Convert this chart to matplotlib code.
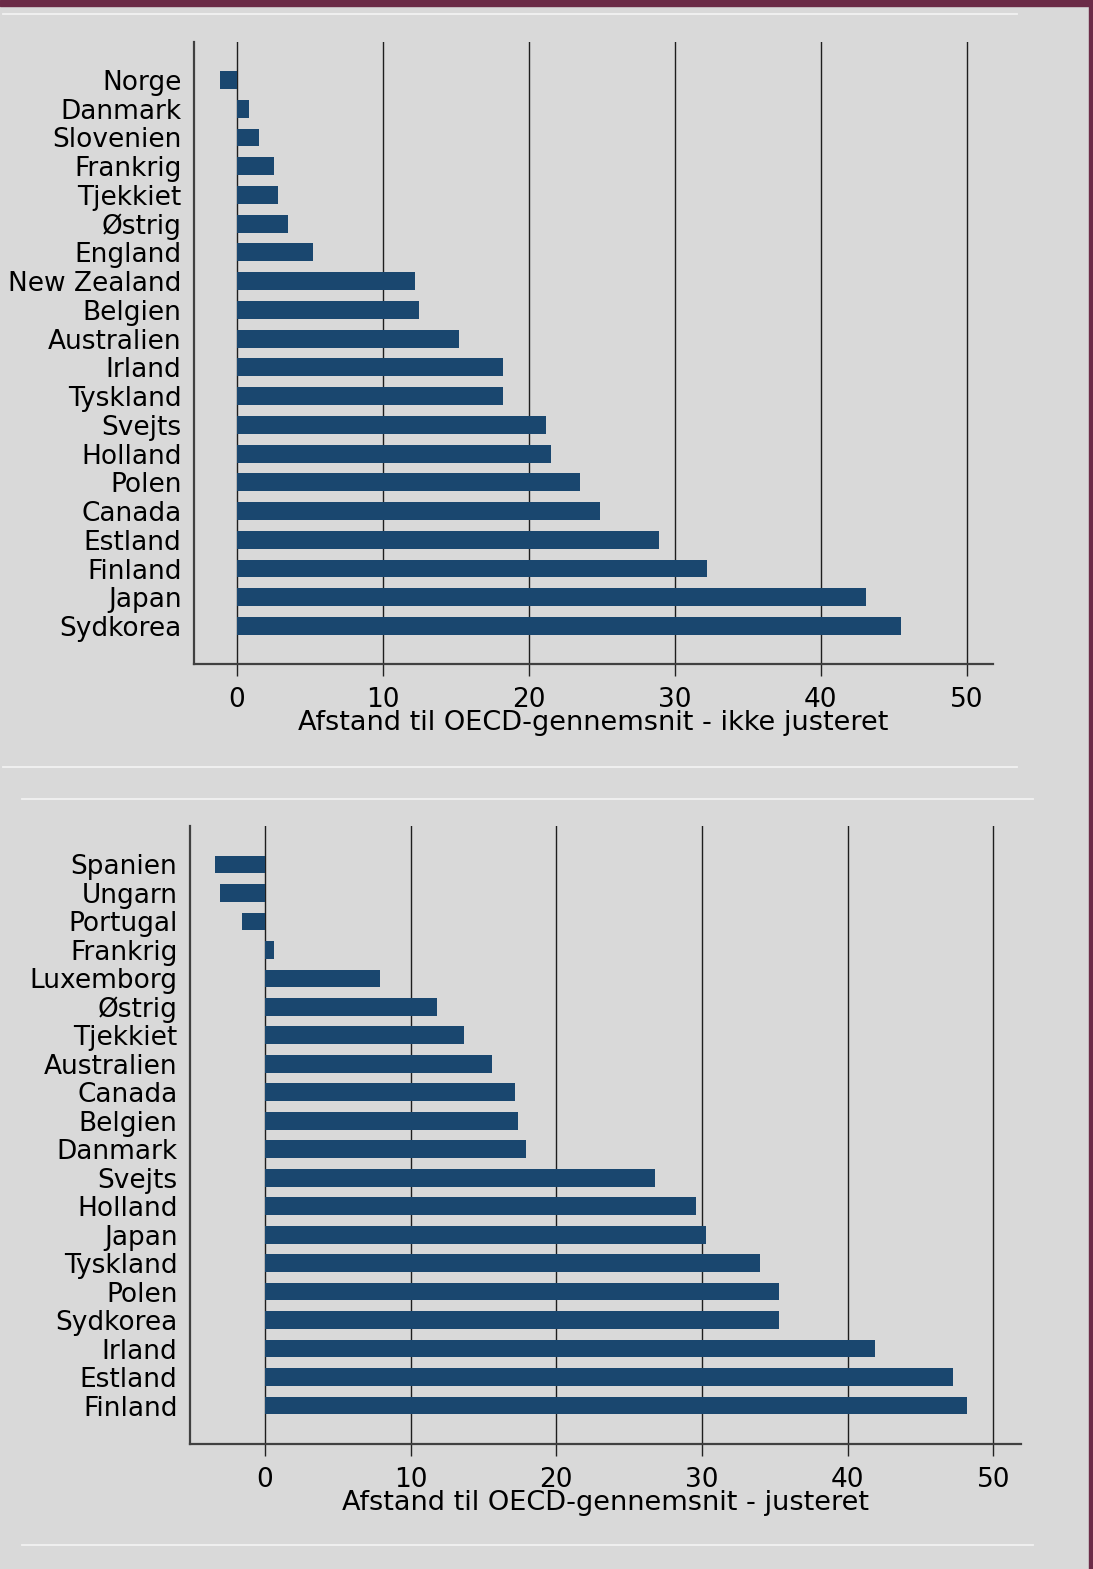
import matplotlib
matplotlib.use("Agg")
import matplotlib.pyplot as plt
from matplotlib.lines import Line2D
from matplotlib.patches import Rectangle

# Data: distance to OECD average (not adjusted / adjusted)
countries_raw = ["Norge", "Danmark", "Slovenien", "Frankrig", "Tjekkiet", "Østrig",
                 "England", "New Zealand", "Belgien", "Australien", "Irland", "Tyskland",
                 "Svejts", "Holland", "Polen", "Canada", "Estland", "Finland", "Japan",
                 "Sydkorea"]
values_raw = [-1.2, 0.8, 1.5, 2.5, 2.8, 3.5, 5.2, 12.2, 12.5, 15.2, 18.2, 18.2,
              21.2, 21.5, 23.5, 24.9, 28.9, 32.2, 43.1, 45.5]

countries_adj = ["Spanien", "Ungarn", "Portugal", "Frankrig", "Luxemborg", "Østrig",
                 "Tjekkiet", "Australien", "Canada", "Belgien", "Danmark", "Svejts",
                 "Holland", "Japan", "Tyskland", "Polen", "Sydkorea", "Irland", "Estland",
                 "Finland"]
values_adj = [-3.4, -3.1, -1.6, 0.6, 7.9, 11.8, 13.7, 15.6, 17.2, 17.4, 17.9, 26.8,
              29.6, 30.3, 34.0, 35.3, 35.3, 41.9, 47.2, 48.2]

xticks = [0, 10, 20, 30, 40, 50]
xlabel_raw = "Afstand til OECD-gennemsnit - ikke justeret"
xlabel_adj = "Afstand til OECD-gennemsnit - justeret"

bg = "#d9d9d9"
bar_color = "#1a476f"
line_color = "#404040"
W, H = 1093, 1569

plt.rcParams['font.family'] = ['DejaVu Sans']
fig = plt.figure(figsize=(W / 100, H / 100), dpi=100, facecolor=bg)


def px_rect(left, top, right, bottom):
    return [left / W, 1 - bottom / H, (right - left) / W, (bottom - top) / H]


def draw_panel(rect, names, vals, xlim, ylim_pad, xlabel):
    ax = fig.add_axes(rect)
    ax.set_facecolor(bg)
    pos = list(range(len(names)))
    ax.barh(pos, vals, height=0.62, color=bar_color, zorder=3)
    ax.set_yticks(pos)
    ax.set_yticklabels(names, fontsize=19)
    ax.set_ylim(len(names) - 1 + ylim_pad, -ylim_pad)
    ax.set_xlim(*xlim)
    ax.set_xticks(xticks)
    ax.tick_params(axis='x', direction='out', length=8.6, width=1.0, color='#222222',
                   labelsize=19, pad=8)
    ax.tick_params(axis='y', length=0, pad=9)
    ax.grid(axis='x', color='#1e1e1e', linewidth=1.0, zorder=1)
    for s in ['top', 'right']:
        ax.spines[s].set_visible(False)
    for s in ['left', 'bottom']:
        ax.spines[s].set_color(line_color)
        ax.spines[s].set_linewidth(1.6)
    ax.set_xlabel(xlabel, fontsize=19.5, labelpad=-2)
    return ax


draw_panel(px_rect(194, 42, 993, 664), countries_raw, values_raw,
           (-2.95, 51.8), 1.32, xlabel_raw)
draw_panel(px_rect(190, 826, 1021, 1444), countries_adj, values_adj,
           (-5.14, 51.9), 1.35, xlabel_adj)

# thin white separators
for y, x0, x1 in [(14, 3, 1017), (767, 3, 1017), (799, 22, 1033), (1545, 22, 1033)]:
    fig.add_artist(Line2D([x0 / W, x1 / W], [1 - y / H, 1 - y / H],
                          color='#f2f2f2', linewidth=1.3))

# maroon frame at top and right
maroon = "#6b2b47"
fig.add_artist(Rectangle((0, 1 - 6 / H), 1, 6 / H, transform=fig.transFigure,
                         color=maroon, zorder=10))
fig.add_artist(Rectangle((1 - 4.5 / W, 0), 4.5 / W, 1, transform=fig.transFigure,
                         color=maroon, zorder=10))

fig.savefig("out.png", dpi=100, facecolor=bg)
